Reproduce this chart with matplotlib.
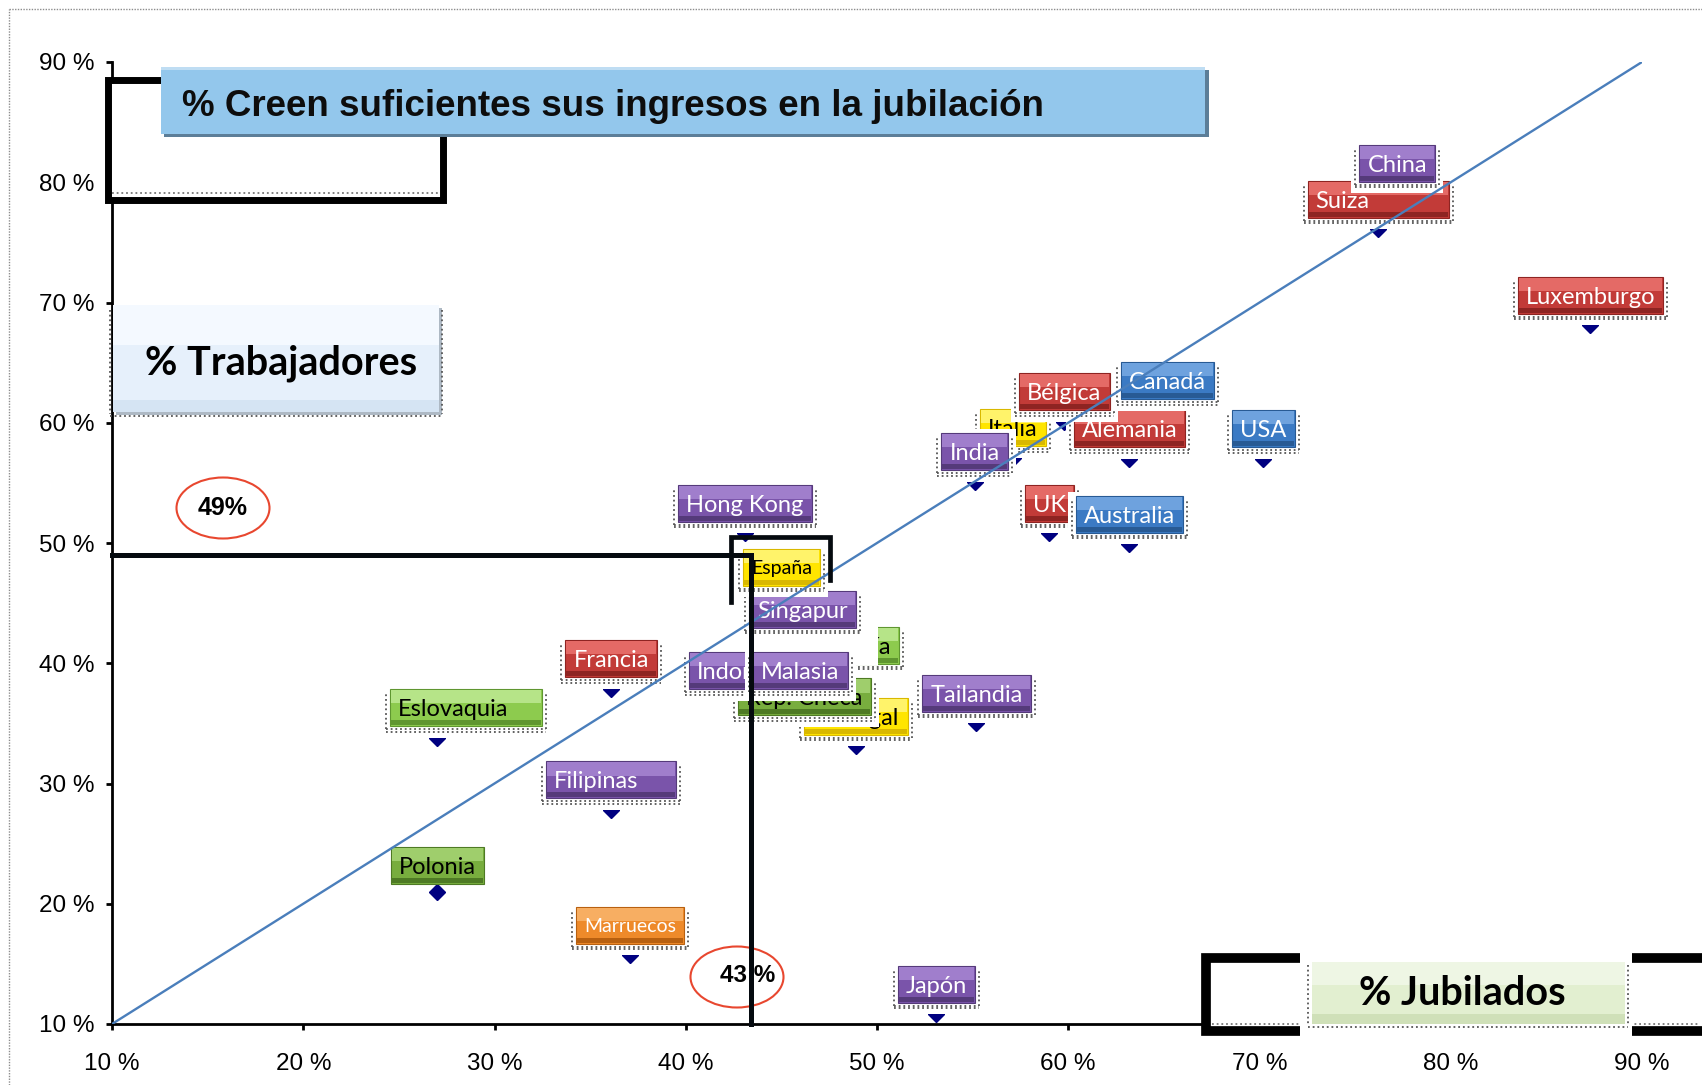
import matplotlib
matplotlib.use('Agg')
import matplotlib.pyplot as plt
from matplotlib.patches import Rectangle, Ellipse
from matplotlib.lines import Line2D
from matplotlib.transforms import IdentityTransform

W, H = 1702, 1085

# % jubilados (x) y % trabajadores (y) que creen suficientes sus ingresos
# (orden = orden de dibujo, de abajo arriba)
paises = ['Polonia', 'Eslovaquia', 'Filipinas', 'Marruecos', 'Francia', 'Japón',
          'Tailandia', 'Portugal', 'Rep. Checa', 'Hungría', 'Singapur', 'Indonesia',
          'Malasia', 'España', 'Hong Kong', 'UK', 'Australia', 'Alemania', 'Italia',
          'India', 'Bélgica', 'Canadá', 'USA', 'Suiza', 'China', 'Luxemburgo']
jubilados = [27.0, 27.0, 36.1, 37.1, 36.1, 53.1,
             55.2, 48.9, 46.2, 48.6, 46.1, 43.2,
             46.0, 45.0, 43.1, 59.0, 63.2, 63.2, 57.1,
             55.1, 59.8, 65.2, 70.2, 76.2, 77.2, 87.3]
trabajadores = [21.0, 33.8, 27.8, 15.7, 37.9, 10.8,
                35.0, 33.1, 34.7, 39.0, 42.0, 36.9,
                36.9, 45.5, 50.8, 50.8, 49.9, 57.0, 57.1,
                55.1, 60.1, 61.0, 57.0, 76.1, 79.1, 68.1]
region = ['este_osc', 'este', 'asia', 'africa', 'europa', 'asia',
          'asia', 'sur', 'este_osc', 'este', 'asia', 'asia',
          'asia', 'sur', 'asia', 'europa', 'anglo', 'europa', 'sur',
          'asia', 'europa', 'anglo', 'anglo', 'europa', 'asia', 'europa']

espana_jub = 43.4
espana_trab = 49.0
diag = [10, 90]
ticks = [10, 20, 30, 40, 50, 60, 70, 80, 90]
tick_labels = ['10 %', '20 %', '30 %', '40 %', '50 %', '60 %', '70 %', '80 %', '90 %']

# base, highlight, shade, text
colores = {
    'europa': ('#C23B38', '#E46A66', '#8E2422', 'white'),
    'asia': ('#7A54AA', '#A07ECC', '#553A7A', 'white'),
    'anglo': ('#3B7AC4', '#6EA2DE', '#285A94', 'white'),
    'este': ('#8DCB4E', '#B6E488', '#5F9630', 'black'),
    'este_osc': ('#78AD3E', '#9FCE6C', '#4E7A24', 'black'),
    'sur': ('#FFE500', '#FFF36A', '#D9B800', 'black'),
    'africa': ('#EE8A2A', '#F7AE62', '#B86010', 'white'),
}

# label tweaks (pixels / points)
ajustes = {
    'Eslovaquia': dict(dx=29, w=152),
    'Suiza': dict(w=141),
    'Filipinas': dict(w=130),
    'Polonia': dict(dy=26, halo=False),
    'Marruecos': dict(fs=14),
    'España': dict(fs=14),
    'Singapur': dict(halo_down=26, halo_r=14),
}

ident = IdentityTransform()
fig = plt.figure(figsize=(W / 100, H / 100), dpi=100)
ax = fig.add_axes([112 / W, 1 - 1024 / H, 1530 / W, 962 / H])
ax.set_xlim(10, 90)
ax.set_ylim(10, 90)
for s in ['top', 'right']:
    ax.spines[s].set_visible(False)
for s in ['left', 'bottom']:
    ax.spines[s].set_linewidth(2.0)
ax.set_xticks(ticks, labels=tick_labels)
ax.set_yticks(ticks, labels=tick_labels)
ax.tick_params(axis='both', direction='out', length=4.5, width=2, labelsize=17.5)
ax.tick_params(axis='x', pad=16.5)
ax.tick_params(axis='y', pad=8)
for lb in ax.get_xticklabels() + ax.get_yticklabels():
    lb.set_fontfamily('Liberation Sans')


def prect(x0, y0, x1, y1, z, **kw):
    r = Rectangle((x0, H - y1), x1 - x0, y1 - y0, transform=ident,
                  clip_on=False, zorder=z, **kw)
    ax.add_patch(r)
    return r


def dline(xs, ys, z, color='#555555', lw=1.3, ls=(0, (1, 1.6))):
    ln = Line2D(xs, ys, transform=ident, color=color, lw=lw, ls=ls,
                zorder=z, clip_on=False)
    ax.add_line(ln)


# markers
ax.plot(jubilados, trabajadores, 'D', color='#000080', markersize=8.5,
        zorder=3, clip_on=False)

renderer = fig.canvas.get_renderer()
pad_x = 8
box_h = 37
rise = 30
for i, name in enumerate(paises):
    base, light, dark, tcol = colores[region[i]]
    st = ajustes.get(name, {})
    fs = st.get('fs', 17)
    z = 10 + 2 * i
    mx, my = ax.transData.transform((jubilados[i], trabajadores[i]))
    cx = mx + st.get('dx', 0)
    cy = my + st.get('dy', rise)
    t = ax.text(0, 0, name, transform=ident, fontsize=fs, family='Lato',
                color=tcol, ha='left', va='baseline', zorder=z + 1.5)
    tw = t.get_window_extent(renderer).width
    bw = st.get('w', tw + 2 * pad_x)
    x0, x1 = cx - bw / 2, cx + bw / 2
    y0, y1 = cy - box_h / 2, cy + box_h / 2
    tx = x0 + pad_x if 'w' in st else cx - tw / 2
    t.set_position((tx, cy - 0.358 * fs * 100 / 72))
    if st.get('halo', True):
        hb = my - st.get('halo_down', 0)
        hr = st.get('halo_r', 0)
        ax.add_patch(Rectangle((x0 - 8, hb), bw + 16 + hr, y1 + 4 - hb, transform=ident,
                               fc='white', ec='none', zorder=z, clip_on=False))
        dline([x0 - 4, x1 + 4], [y0 - 3, y0 - 3], z + 0.3)
        dline([x0 - 4, x1 + 4], [y0 - 5.5, y0 - 5.5], z + 0.3)
        dline([x0 - 4, x0 - 4], [y0 - 3, y1 - 4], z + 0.3)
        dline([x1 + 4, x1 + 4], [y0 - 3, y1 - 4], z + 0.3)
    ax.add_patch(Rectangle((x0, y0), bw, box_h, transform=ident, fc=base,
                           ec=dark, lw=0.8, zorder=z + 0.5, clip_on=False))
    ax.add_patch(Rectangle((x0 + 1, y1 - 0.38 * box_h), bw - 2, 0.38 * box_h - 1,
                           transform=ident, fc=light, ec='none', zorder=z + 0.6,
                           clip_on=False))
    ax.add_patch(Rectangle((x0 + 1, y0 + 1), bw - 2, 5, transform=ident, fc=dark,
                           ec='none', zorder=z + 0.6, clip_on=False))

# diagonal
ax.plot(diag, diag, color='#4A7EBB', lw=1.7, zorder=200)

# Spain guide lines
ax.plot([10, espana_jub, espana_jub], [espana_trab, espana_trab, 10],
        color='#050A0F', lw=3.6, zorder=210, clip_on=False, solid_joinstyle='miter')
ax.plot([42.34, 42.34, 47.56, 47.56], [45.1, 50.54, 50.54, 46.9],
        color='#050A0F', lw=3.4, zorder=210, solid_joinstyle='miter')

# ellipses
for (ex, ey) in [(223, 508), (737, 977)]:
    ax.add_patch(Ellipse((ex, H - ey), 93, 61, transform=ident, fill=False,
                         ec='#E8472F', lw=1.5, zorder=205, clip_on=False))
ax.text(223, H - 508, '49%', transform=ident, ha='center', va='center',
        fontsize=18, fontweight='bold', family='Liberation Sans', zorder=206)
ax.text(748, H - 976, '43 %', transform=ident, ha='center', va='center',
        fontsize=17.5, fontweight='bold', family='Liberation Sans', zorder=206)

# black frames
prect(108, 80, 443, 200, 250, fc='white', ec='black', lw=5)
dline([112, 438], [H - 193, H - 193], 251, color='#777777')
prect(1206, 958, 1730, 1031, 250, fc='white', ec='black', lw=7)
dline([1212, 1700], [H - 1024, H - 1024], 251, color='#777777')

# title box
prect(164, 70, 1209, 137, 300, fc='#5C7E98', ec='none')
prect(161, 67, 1205, 134, 301, fc='#93C7EC', ec='none')
prect(161, 67, 1205, 70, 302, fc='#BFDDF3', ec='none')
ax.text(182, H - 116, '% Creen suficientes sus ingresos en la jubilación',
        transform=ident, fontsize=26.5, fontweight='bold', family='Liberation Sans',
        color='#0D0D0D', ha='left', va='baseline', zorder=303)

# % Trabajadores box
prect(116, 308, 442, 415, 300, fc='#AEB9C4', ec='none')
prect(113, 305, 439, 412, 301, fc='#E6F0FB', ec='none')
prect(113, 305, 439, 345, 302, fc='#F4F9FF', ec='none')
prect(113, 400, 439, 412, 302, fc='#D5E4F3', ec='none')
dline([110, 442], [H - 416, H - 416], 303)
dline([110, 110], [H - 310, H - 414], 303)
dline([442, 442], [H - 310, H - 414], 303)
ax.text(281, H - 375, '% Trabajadores', transform=ident, fontsize=28.5,
        fontweight='bold', family='Lato', color='black', ha='center',
        va='baseline', zorder=304)

# % Jubilados box
prect(1300, 950, 1632, 1040, 300, fc='white', ec='none')
prect(1312, 962, 1625, 1024, 301, fc='#E2EFD0', ec='none')
prect(1312, 962, 1625, 985, 302, fc='#EEF6E4', ec='none')
prect(1312, 1014, 1625, 1024, 302, fc='#CFE0B8', ec='none')
dline([1308, 1628], [H - 1027, H - 1027], 303)
dline([1308, 1308], [H - 965, H - 1026], 303)
dline([1628, 1628], [H - 965, H - 1026], 303)
ax.text(1462, H - 1005, '% Jubilados', transform=ident, fontsize=28.5,
        fontweight='bold', family='Lato', color='black', ha='center',
        va='baseline', zorder=304)

# outer dotted border
fig.add_artist(Line2D([8.5, 8.5], [0, H - 9], transform=ident, color='#8C8C8C',
                      lw=1, ls=(0, (1, 1))))
fig.add_artist(Line2D([8.5, W], [H - 9, H - 9], transform=ident, color='#8C8C8C',
                      lw=1, ls=(0, (1, 1))))

fig.savefig('out.png', dpi=100)
